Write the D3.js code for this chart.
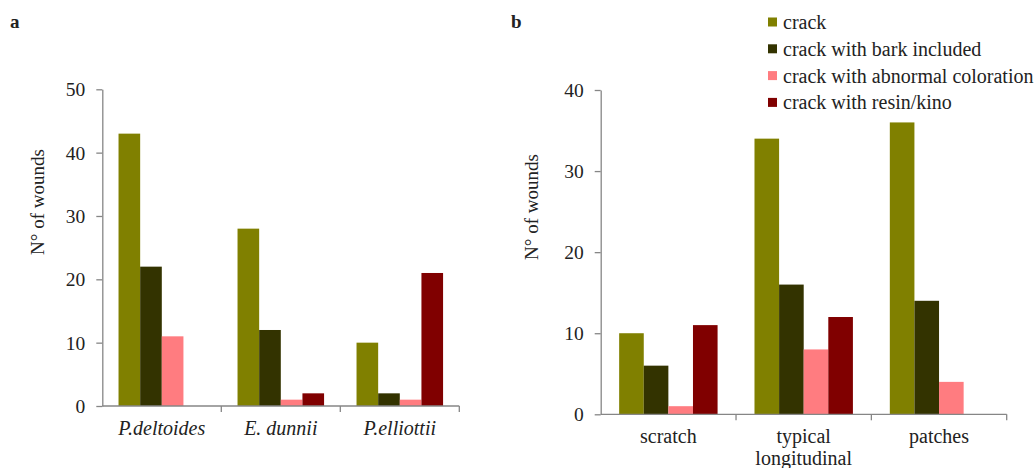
<!DOCTYPE html>
<html lang="en">
<head>
<meta charset="UTF-8">
<title>Wounds by species and type</title>
<script src="https://d3js.org/d3.v7.min.js"></script>
<style>
    body { margin: 0; background: #fff; }
    svg text { font-family: "Liberation Serif", "Times New Roman", serif; fill: #222; }
    .axis path, .axis line { stroke: #868686; stroke-width: 1.3; }
    .axis text { font-size: 19.5px; fill: #222; }
</style>
</head>
<body>
<svg width="1035" height="468"></svg>
<script>
// data
const series = ["crack", "crack with bark included", "crack with abnormal coloration", "crack with resin/kino"];
const colors = ["#808000", "#333300", "#FF7C80", "#800000"];

const speciesCats = ["P.deltoides", "E. dunnii", "P.elliottii"];
const speciesValues = [
    [43, 22, 11, 0],
    [28, 12, 1, 2],
    [10, 2, 1, 21]
];
const speciesTicks = [0, 10, 20, 30, 40, 50];

const typeCats = ["scratch", "typical longitudinal", "patches"];
const typeValues = [
    [10, 6, 1, 11],
    [34, 16, 8, 12],
    [36, 14, 4, 0]
];
const typeTicks = [0, 10, 20, 30, 40];

const svg = d3.select("svg");

function drawPanel(opt) {
    const g = svg.append("g");

    const x = d3.scaleBand()
        .domain(opt.cats)
        .range([opt.left, opt.right])
        .padding(0);

    const xs = d3.scaleBand()
        .domain(series)
        .range([0, x.bandwidth()])
        .paddingInner(0)
        .paddingOuter(0.75);

    const y = d3.scaleLinear()
        .domain([0, d3.max(opt.ticks)])
        .range([opt.bottom, opt.top]);

    // bars
    const groups = g.selectAll(".grp")
        .data(opt.cats)
        .enter().append("g")
        .attr("transform", d => `translate(${x(d)},0)`);

    groups.selectAll("rect")
        .data((d, i) => opt.values[i].map((v, j) => ({ s: series[j], v: v, c: colors[j] })))
        .enter().append("rect")
        .attr("x", d => xs(d.s))
        .attr("width", xs.bandwidth())
        .attr("y", d => y(d.v))
        .attr("height", d => y(0) - y(d.v))
        .attr("fill", d => d.c);

    // y axis
    g.append("g")
        .attr("class", "axis")
        .attr("transform", `translate(${opt.left},0)`)
        .call(d3.axisLeft(y).tickValues(opt.ticks).tickSize(6).tickSizeOuter(0).tickPadding(11))
        .call(a => a.selectAll("text").attr("dy", "0.34em"));

    // x axis line + boundary ticks
    const xa = g.append("g").attr("class", "axis");
    xa.append("line")
        .attr("x1", opt.left).attr("x2", opt.right)
        .attr("y1", y(0)).attr("y2", y(0));
    xa.selectAll(".bt")
        .data(opt.cats)
        .enter().append("line")
        .attr("x1", d => x(d) + x.bandwidth())
        .attr("x2", d => x(d) + x.bandwidth())
        .attr("y1", y(0)).attr("y2", y(0) + 6);

    // category labels
    const lab = g.selectAll(".cat")
        .data(opt.cats)
        .enter().append("text")
        .attr("text-anchor", "middle")
        .attr("font-size", 20)
        .attr("font-style", opt.italic ? "italic" : "normal")
        .attr("x", d => x(d) + x.bandwidth() / 2)
        .attr("y", opt.bottom + 29);
    lab.each(function(d) {
        const words = opt.wrap ? d.split(" ") : [d];
        const t = d3.select(this);
        words.forEach((w, i) => {
            t.append("tspan")
                .attr("x", x(d) + x.bandwidth() / 2)
                .attr("dy", i === 0 ? 0 : 22)
                .text(w);
        });
    });

    // y title
    g.append("text")
        .attr("transform", `translate(${opt.titleX},${opt.titleY}) rotate(-90)`)
        .attr("text-anchor", "middle")
        .attr("dy", "0.35em")
        .attr("font-size", 19)
        .text("N\u00b0 of wounds");

    // panel letter
    svg.append("text")
        .attr("x", opt.letterX).attr("y", 28)
        .attr("font-size", 19)
        .attr("font-weight", "bold")
        .text(opt.letter);

    return { x, y };
}

drawPanel({
    cats: speciesCats, values: speciesValues, ticks: speciesTicks,
    left: 102.3, right: 459.3, top: 89.3, bottom: 406,
    italic: true, wrap: false, titleX: 37, titleY: 202, letter: "a", letterX: 10
});

drawPanel({
    cats: typeCats, values: typeValues, ticks: typeTicks,
    left: 600.7, right: 1006.7, top: 90, bottom: 414.3,
    italic: false, wrap: true, titleX: 531, titleY: 207, letter: "b", letterX: 511
});

// legend
const legend = svg.append("g").attr("transform", "translate(768,22)");
const li = legend.selectAll(".li")
    .data(series)
    .enter().append("g")
    .attr("transform", (d, i) => `translate(0,${i * 26.8})`);
li.append("rect")
    .attr("x", 0).attr("y", -4.5)
    .attr("width", 9).attr("height", 9)
    .attr("fill", (d, i) => colors[i]);
li.append("text")
    .attr("x", 15)
    .attr("dy", "0.35em")
    .attr("font-size", 20)
    .text(d => d);
</script>
</body>
</html>
